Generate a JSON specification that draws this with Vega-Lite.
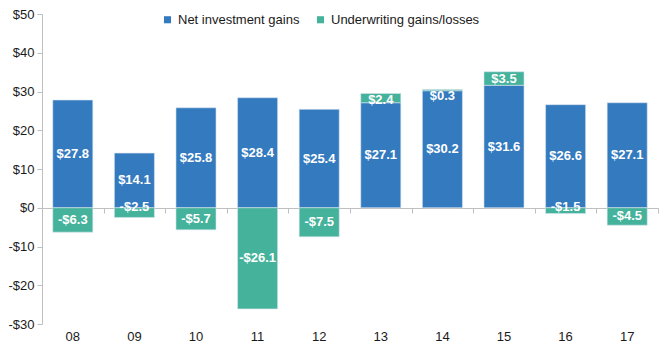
{
  "$schema": "https://vega.github.io/schema/vega-lite/v6.json",
  "autosize": {"type": "none"},
  "padding": {"left": 42, "top": 14, "right": 9, "bottom": 28},
  "width": 616,
  "height": 310,
  "background": "white",
  "config": {
    "view": {"stroke": null},
    "font": "Liberation Sans",
    "axis": {"labelFont": "Liberation Sans", "labelFontSize": 13, "labelColor": "#1a1a1a", "grid": false},
    "legend": {"labelFont": "Liberation Sans", "labelFontSize": 13, "labelColor": "#1a1a1a"}
  },
  "data": {
    "values": [
      {"year": "08", "series": "Net investment gains", "value": 27.8},
      {"year": "08", "series": "Underwriting gains/losses", "value": -6.3},
      {"year": "09", "series": "Net investment gains", "value": 14.1},
      {"year": "09", "series": "Underwriting gains/losses", "value": -2.5},
      {"year": "10", "series": "Net investment gains", "value": 25.8},
      {"year": "10", "series": "Underwriting gains/losses", "value": -5.7},
      {"year": "11", "series": "Net investment gains", "value": 28.4},
      {"year": "11", "series": "Underwriting gains/losses", "value": -26.1},
      {"year": "12", "series": "Net investment gains", "value": 25.4},
      {"year": "12", "series": "Underwriting gains/losses", "value": -7.5},
      {"year": "13", "series": "Net investment gains", "value": 27.1},
      {"year": "13", "series": "Underwriting gains/losses", "value": 2.4},
      {"year": "14", "series": "Net investment gains", "value": 30.2},
      {"year": "14", "series": "Underwriting gains/losses", "value": 0.3},
      {"year": "15", "series": "Net investment gains", "value": 31.6},
      {"year": "15", "series": "Underwriting gains/losses", "value": 3.5},
      {"year": "16", "series": "Net investment gains", "value": 26.6},
      {"year": "16", "series": "Underwriting gains/losses", "value": -1.5},
      {"year": "17", "series": "Net investment gains", "value": 27.1},
      {"year": "17", "series": "Underwriting gains/losses", "value": -4.5}
    ]
  },
  "resolve": {"axis": {"x": "independent", "y": "independent"}},
  "layer": [
    {
      "mark": {"type": "bar", "width": {"band": 0.65}, "stroke": "#d6e4f0", "strokeWidth": 0.6},
      "encoding": {
        "x": {
          "field": "year", "type": "ordinal", "title": null,
          "scale": {"paddingInner": 0, "paddingOuter": 0},
          "axis": {"domain": false, "ticks": false, "labelAngle": 0, "labelPadding": 6}
        },
        "y": {
          "field": "value", "type": "quantitative", "aggregate": "sum", "stack": "zero", "title": null,
          "scale": {"domain": [-30, 50], "nice": false, "zero": false},
          "axis": {
            "values": [-30, -20, -10, 0, 10, 20, 30, 40, 50],
            "labelOverlap": false,
            "labelExpr": "(datum.value < 0 ? '-$' : '$') + abs(datum.value)",
            "domainColor": "#bfbfbf", "tickColor": "#bfbfbf", "tickSize": 5, "labelPadding": 3
          }
        },
        "color": {
          "field": "series", "type": "nominal", "title": null,
          "scale": {"domain": ["Net investment gains", "Underwriting gains/losses"], "range": ["#347ABE", "#45B29B"]},
          "legend": {
            "orient": "none", "legendX": 119, "legendY": -1, "direction": "horizontal",
            "symbolType": "square", "symbolSize": 50, "symbolStrokeWidth": 0, "columnPadding": 14, "labelOffset": 4
          }
        },
        "order": {"field": "series", "sort": "ascending"}
      }
    },
    {
      "transform": [
        {"stack": "value", "groupby": ["year"], "sort": [{"field": "series", "order": "ascending"}], "as": ["v0", "v1"]},
        {"calculate": "abs(datum.value) < 3 ? (datum.value < 0 ? 0.2 : max(datum.v0, datum.v1) - 1.6) : (datum.v0 + datum.v1) / 2", "as": "labelY"},
        {"calculate": "(datum.value < 0 ? '-$' : '$') + format(abs(datum.value), '.1f')", "as": "label"}
      ],
      "mark": {"type": "text", "color": "white", "fontWeight": "bold", "fontSize": 13, "baseline": "middle", "align": "center"},
      "encoding": {
        "x": {
          "field": "year", "type": "ordinal", "title": null,
          "axis": {"orient": "bottom", "offset": -116, "labels": false, "tickBand": "extent", "domainColor": "#bfbfbf", "tickColor": "#bfbfbf", "tickSize": 5}
        },
        "y": {"field": "labelY", "type": "quantitative", "axis": null},
        "text": {"field": "label"}
      }
    }
  ]
}
